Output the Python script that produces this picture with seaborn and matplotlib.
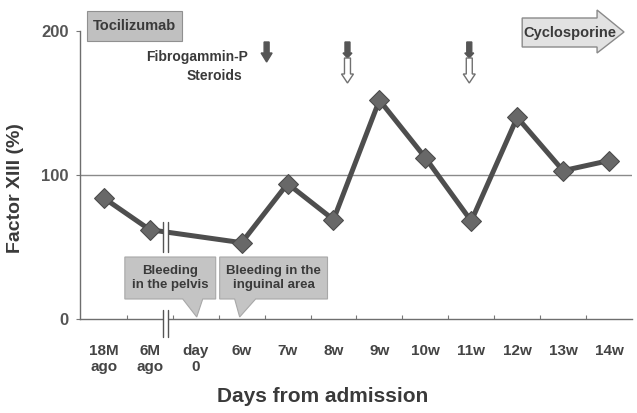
import matplotlib
matplotlib.use("Agg")
import matplotlib.pyplot as plt
from matplotlib.patches import Polygon, Rectangle
from matplotlib.lines import Line2D
import seaborn as sns
import pandas as pd

# Measurement timeline and Factor XIII activity
timepoints = ["18M\nago", "6M\nago", "day\n0", "6w", "7w", "8w", "9w",
              "10w", "11w", "12w", "13w", "14w"]
measured = ["18M\nago", "6M\nago", "6w", "7w", "8w", "9w", "10w", "11w",
            "12w", "13w", "14w"]
factor_xiii = [84, 62, 53, 94, 69, 152, 112, 68, 140, 103, 110]
y_ticks = [0, 100, 200]
reference_level = 100

sns.set_theme(style="white")
plt.rcParams["font.family"] = ["Liberation Sans", "DejaVu Sans"]

pos = {lab: i for i, lab in enumerate(timepoints)}
df = pd.DataFrame({"x": [pos[m] for m in measured], "factor": factor_xiii})

fig = plt.figure(figsize=(6.37, 4.13), dpi=100)
ax = fig.add_axes([80 / 637, 1 - 319 / 413, 552 / 637, 288 / 413])

line_col = "#4e4e4e"
ax.axhline(reference_level, color="#8a8a8a", lw=1.0, zorder=1)
sns.lineplot(data=df, x="x", y="factor", ax=ax, color=line_col, lw=3.6,
             marker="D", markersize=10.5, markeredgecolor="#4a4a4a",
             markerfacecolor="#686868", zorder=3)

ax.set_xlim(-0.52, 11.5)
ax.set_ylim(0, 200)
ax.set_xticks(range(len(timepoints)))
ax.set_xticklabels(timepoints, fontsize=11, fontweight="bold", color="#444444",
                   linespacing=1.2)
ax.set_xticks([i + 0.5 for i in range(len(timepoints) - 1)], minor=True)
ax.tick_params(axis="x", which="major", length=0, pad=18)
ax.tick_params(axis="x", which="minor", direction="in", length=3,
               color="#777777", width=0.8, bottom=True)
ax.set_yticks(y_ticks)
ax.set_yticklabels([str(v) for v in y_ticks], fontsize=12, fontweight="bold",
                   color="#555555")
ax.tick_params(axis="y", length=3, color="#777777", width=0.8, left=True,
               pad=5)

for side in ["top", "right"]:
    ax.spines[side].set_visible(False)
for side in ["left", "bottom"]:
    ax.spines[side].set_color("#6e6e6e")
    ax.spines[side].set_linewidth(1.0)

ax.set_xlabel("Days from admission", fontsize=15, fontweight="bold",
              color="#3a3a3a")
ax.xaxis.set_label_coords((323 - 80) / 552, (319 - 397) / 288)
ax.xaxis.label.set_va("center")
ax.set_ylabel("Factor XIII (%)", fontsize=14, fontweight="bold",
              color="#3a3a3a")
ax.yaxis.set_label_coords((24 - 80) / 552, (319 - 188) / 288)

PX = 1 / 46.0   # one pixel in x data units
PY = 1 / 1.44   # one pixel in y data units


def xd(px):
    return (px - 104) * PX


def yd(py):
    return (319 - py) * PY


# axis and line breaks between "6M ago" and "day 0"
for (ya, yb) in [(310, 337), (222, 252)]:
    ax.add_patch(Rectangle((xd(163.5), yd(yb)), 4.5 * PX, (yb - ya) * PY,
                           facecolor="white", edgecolor="none", zorder=4,
                           clip_on=False))
    for xp in (163, 168.5):
        ax.add_line(Line2D([xd(xp), xd(xp)], [yd(ya), yd(yb)], color="#555555",
                           lw=1.0, zorder=5, clip_on=False))


def down_arrow(xc, top, bottom, fill, edge, shaft=5, head=11, head_len=9):
    pts = [(xc - shaft / 2, top), (xc + shaft / 2, top),
           (xc + shaft / 2, bottom - head_len), (xc + head / 2, bottom - head_len),
           (xc, bottom), (xc - head / 2, bottom - head_len),
           (xc - shaft / 2, bottom - head_len)]
    ax.add_patch(Polygon([(xd(a), yd(b)) for a, b in pts], closed=True,
                         facecolor=fill, edgecolor=edge, lw=1.0, zorder=6,
                         clip_on=False))


# drug administration markers
down_arrow(267, 42, 62, "#555555", "#555555")
down_arrow(348, 42, 58, "#555555", "#555555", head=9, head_len=5)
down_arrow(348, 58, 83, "white", "#707070", shaft=6, head=12, head_len=9)
down_arrow(470, 42, 58, "#555555", "#555555", head=9, head_len=5)
down_arrow(470, 58, 83, "white", "#707070", shaft=6, head=12, head_len=9)

ax.text(xd(197), yd(57), "Fibrogammin-P", ha="center", va="center",
        fontsize=10, fontweight="bold", color="#3a3a3a")
ax.text(xd(215), yd(76), "Steroids", ha="center", va="center",
        fontsize=10, fontweight="bold", color="#3a3a3a")

# Tocilizumab box
ax.add_patch(Rectangle((xd(87), yd(41)), 95 * PX, 30 * PY, facecolor="#c0c0c0",
                       edgecolor="#909090", lw=0.8, zorder=6, clip_on=False))
ax.text(xd(134.5), yd(26.5), "Tocilizumab", ha="center", va="center",
        fontsize=10.5, fontweight="bold", color="#3a3a3a", zorder=7)

# Cyclosporine block arrow
cyc = [(523, 18), (598, 18), (598, 10), (625, 32), (598, 53), (598, 47),
       (523, 47)]
ax.add_patch(Polygon([(xd(a), yd(b)) for a, b in cyc], closed=True,
                     facecolor="#e2e2e2", edgecolor="#8a8a8a", lw=1.0,
                     zorder=6, clip_on=False))
ax.text(xd(571), yd(32.5), "Cyclosporine", ha="center", va="center",
        fontsize=10.5, fontweight="bold", color="#3a3a3a", zorder=7)


def callout(x0, x1, y0, y1, b0, b1, tip, label):
    pts = [(x0, y0), (x1, y0), (x1, y1), (b1, y1), tip, (b0, y1), (x0, y1)]
    ax.add_patch(Polygon([(xd(a), yd(b)) for a, b in pts], closed=True,
                         facecolor="#c4c4c4", edgecolor="#a8a8a8", lw=0.8,
                         zorder=6, clip_on=False))
    ax.text(xd((x0 + x1) / 2), yd((y0 + y1) / 2), label, ha="center",
            va="center", fontsize=9.5, fontweight="bold", color="#3a3a3a",
            zorder=7, linespacing=1.15)


callout(125, 216, 257, 299, 183, 203, (197, 317), "Bleeding\nin the pelvis")
callout(220, 328, 257, 299, 235, 256, (240, 317), "Bleeding in the\ninguinal area")

fig.savefig("out.png", dpi=100)
